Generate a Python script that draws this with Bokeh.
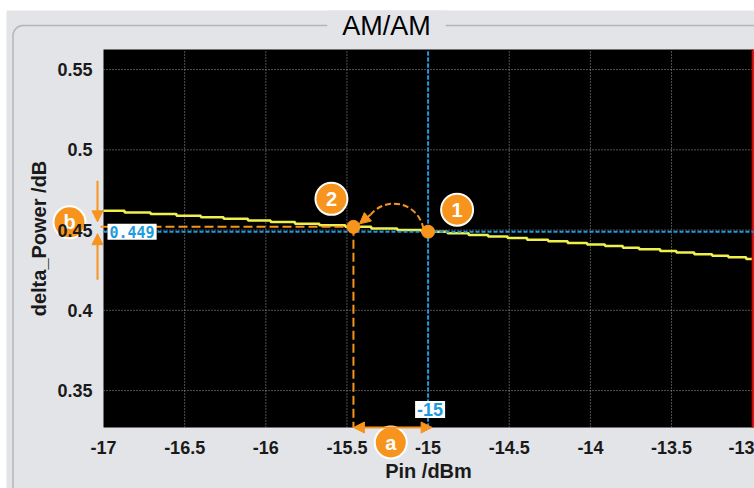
import math
from bokeh.plotting import figure
from bokeh.models import Label, Arrow, NormalHead, BoxAnnotation, Range1d
from bokeh.embed import file_html
from bokeh.resources import INLINE
from bokeh.core.properties import value

# ---------------- data ----------------
title_text = "AM/AM"
x_label = "Pin /dBm"
y_label = "delta_Power /dB"
x_ticks = [-17, -16.5, -16, -15.5, -15, -14.5, -14, -13.5, -13]
x_tick_labels = ["-17", "-16.5", "-16", "-15.5", "-15", "-14.5", "-14", "-13.5", "-13"]
y_ticks = [0.35, 0.4, 0.45, 0.5, 0.55]
y_tick_labels = ["0.35", "0.4", "0.45", "0.5", "0.55"]

trace_pin = [-17.0, -16.87, -16.71, -16.55, -16.40, -16.26, -16.11, -15.97, -15.82,
             -15.67, -15.51, -15.35, -15.19, -15.04, -14.88, -14.75, -14.63, -14.51,
             -14.39, -14.26, -14.14, -14.02, -13.91, -13.80, -13.70, -13.57, -13.47,
             -13.36, -13.25, -13.15, -13.04, -13.0]
trace_dp = [0.462, 0.461, 0.460, 0.459, 0.458, 0.457, 0.456, 0.455, 0.454,
            0.453, 0.452, 0.451, 0.450, 0.449, 0.448, 0.447, 0.446, 0.445,
            0.444, 0.443, 0.442, 0.441, 0.440, 0.439, 0.438, 0.437, 0.436,
            0.435, 0.434, 0.433, 0.432, 0.432]

cursor1_pin = -15.0
cursor1_dp = 0.449
cursor2_pin = -15.46
cursor2_dp = 0.452
limit_pin = -13.0

# ---------------- styling / layout ----------------
PANEL = "#e3e4e8"
ORANGE = "#f7941d"
BLUE = "#1e9be0"
YELLOW = "#f0f04c"
RED = "#e00000"
TXT = "#1a1a1a"
FONT = "Liberation Sans"

W, H = 754, 488
PL, PT, PR, PB = 103, 49, 1, 61          # diagram area inside the canvas (px)
XMIN, XMAX = -17.0, -12.995
YMIN, YMAX = 0.327, 0.5625
DX = (XMAX - XMIN) / (W - PL - PR)       # data per pixel
DY = (YMAX - YMIN) / (H - PT - PB)


def px2x(px):
    return XMIN + (px - PL) * DX


def py2y(py):
    return YMAX - (py - PT) * DY


p = figure(width=W, height=H, x_range=Range1d(px2x(0), px2x(W)), y_range=Range1d(py2y(H), py2y(0)),
           output_backend="svg", toolbar_location=None, title=None,
           min_border_left=0, min_border_right=0, min_border_top=0, min_border_bottom=0,
           background_fill_color="white", border_fill_color="white", outline_line_color=None)
p.grid.visible = False

# panel background, rounded frame, diagram area
p.add_layout(BoxAnnotation(left=px2x(6), right=px2x(W + 20), top=py2y(10), bottom=py2y(H + 20),
                           fill_color=PANEL, fill_alpha=1, line_alpha=0, level="underlay"))
p.add_layout(BoxAnnotation(left=px2x(12.5), right=px2x(W + 30), top=py2y(25), bottom=py2y(H + 30),
                           fill_alpha=0, line_color="#4a4a4a", line_width=1.5,
                           border_radius=10, level="underlay"))
p.add_layout(BoxAnnotation(left=XMIN, right=XMAX, top=YMAX, bottom=YMIN,
                           fill_color="black", fill_alpha=1, line_alpha=0, level="underlay"))
p.add_layout(Label(x=px2x(386), y=py2y(25), text=title_text,
                   text_align="center", text_baseline="middle",
                   text_font=FONT, text_font_size="27px", text_color="#000000",
                   background_fill_color=PANEL, padding=dict(left=15, right=15, top=0, bottom=0)))

# axes fixed to the diagram edges
p.xaxis.fixed_location = YMIN
p.yaxis.fixed_location = XMIN
p.xaxis.bounds = (XMIN, XMAX)
p.yaxis.bounds = (YMIN, YMAX)
p.xaxis.ticker = x_ticks
p.xaxis.major_label_overrides = {t: l for t, l in zip(x_ticks, x_tick_labels)}
p.yaxis.ticker = y_ticks
p.yaxis.major_label_overrides = {t: l for t, l in zip(y_ticks, y_tick_labels)}
p.xaxis.axis_label = x_label
p.yaxis.axis_label = y_label
for ax in (p.xaxis[0], p.yaxis[0]):
    ax.axis_line_color = None
    ax.major_tick_line_color = None
    ax.minor_tick_line_color = None
    ax.major_tick_out = 0
    ax.major_tick_in = 0
    ax.major_label_text_font = FONT
    ax.major_label_text_font_style = "bold"
    ax.major_label_text_font_size = "18px"
    ax.major_label_text_color = TXT
    ax.axis_label_text_font = FONT
    ax.axis_label_text_font_style = "bold"
    ax.axis_label_text_font_size = "20px"
    ax.axis_label_text_color = TXT
p.xaxis.major_label_standoff = 13
p.xaxis.axis_label_standoff = 3
p.yaxis.major_label_standoff = 11
p.yaxis.axis_label_standoff = 4

# dotted grid inside the diagram
gx = [t for t in x_ticks if XMIN < t < limit_pin]
gy = [t for t in y_ticks if YMIN < t < YMAX]
p.segment(x0=gx, y0=[YMIN] * len(gx), x1=gx, y1=[YMAX] * len(gx),
          line_color="#a0a0a0", line_width=1, line_dash="1 2")
p.segment(x0=[XMIN] * len(gy), y0=gy, x1=[XMAX] * len(gy), y1=gy,
          line_color="#a0a0a0", line_width=1, line_dash="1 2")

# trace
p.step(trace_pin, trace_dp, mode="after", line_color=YELLOW, line_width=2.5)

# limit line
p.segment(x0=[limit_pin], y0=[YMIN], x1=[limit_pin], y1=[YMAX], line_color=RED, line_width=2)

# cursor 1 (blue)
p.segment(x0=[cursor1_pin], y0=[YMIN], x1=[cursor1_pin], y1=[YMAX],
          line_color=BLUE, line_width=2, line_dash="4 2")
p.segment(x0=[XMIN], y0=[cursor1_dp], x1=[XMAX], y1=[cursor1_dp],
          line_color=BLUE, line_width=2, line_dash="4 2")

# cursor 2 (orange)
p.segment(x0=[cursor2_pin], y0=[cursor2_dp], x1=[cursor2_pin], y1=[YMIN],
          line_color=ORANGE, line_width=2, line_dash="9 4")
p.segment(x0=[XMIN - 3 * DX], y0=[cursor2_dp], x1=[cursor2_pin], y1=[cursor2_dp],
          line_color=ORANGE, line_width=2, line_dash="9 4")

# markers
p.scatter([cursor1_pin, cursor2_pin], [cursor1_dp, cursor2_dp], size=13,
          fill_color=ORANGE, line_color=ORANGE)

# arc arrow from marker 1 to marker 2
xc = (cursor1_pin + cursor2_pin) / 2 + 3 * DX
yc = cursor1_dp - 2 * DY
p.arc(x=[xc], y=[yc], radius=30, radius_units="screen", start_angle=0.16, end_angle=2.45,
      line_color=ORANGE, line_width=2, line_dash="6 3")
ax0 = xc + 30 * math.cos(2.45) * DX
ay0 = yc + 30 * math.sin(2.45) * DY
p.add_layout(Arrow(x_start=ax0, y_start=ay0, x_end=cursor2_pin + 6 * DX, y_end=cursor2_dp + 3 * DY,
                   line_color=ORANGE, line_width=2,
                   end=NormalHead(size=11, fill_color=ORANGE, line_color=ORANGE)))

# delta arrows a (x) and b (y)
p.add_layout(Arrow(x_start=cursor2_pin, y_start=YMIN, x_end=cursor1_pin + 4 * DX, y_end=YMIN,
                   line_color=ORANGE, line_width=2,
                   start=NormalHead(size=11, fill_color=ORANGE, line_color=ORANGE),
                   end=NormalHead(size=11, fill_color=ORANGE, line_color=ORANGE)))
xb = XMIN - 6 * DX
p.add_layout(Arrow(x_start=xb, y_start=cursor2_dp + 46 * DY, x_end=xb, y_end=cursor2_dp + 5 * DY,
                   line_color=ORANGE, line_width=2,
                   end=NormalHead(size=11, fill_color=ORANGE, line_color=ORANGE)))
p.add_layout(Arrow(x_start=xb, y_start=cursor1_dp - 48 * DY, x_end=xb, y_end=cursor1_dp - 2 * DY,
                   line_color=ORANGE, line_width=2,
                   end=NormalHead(size=11, fill_color=ORANGE, line_color=ORANGE)))

# numbered / lettered badges
bx = [cursor1_pin + 29 * DX, cursor2_pin - 22 * DX, (cursor1_pin + cursor2_pin) / 2, XMIN - 34 * DX]
by = [cursor1_dp + 22 * DY, cursor2_dp + 28 * DY, YMIN - 15 * DY, (cursor1_dp + cursor2_dp) / 2 + 7 * DY]
p.scatter(bx, by, size=32, fill_color=ORANGE, line_color="white", line_width=2)
p.text(bx, by, text=["1", "2", "a", "b"], text_align="center",
       text_baseline="middle", text_color="white", text_font=value(FONT),
       text_font_style="bold", text_font_size="20px")

# cursor value read-outs
p.add_layout(Label(x=XMIN + 4 * DX, y=cursor1_dp, text=f"{cursor1_dp:.3f}",
                   text_align="left", text_baseline="middle", text_color=BLUE,
                   text_font="DejaVu Sans Mono", text_font_style="bold",
                   text_font_size="15px", background_fill_color="white", padding=2))
p.add_layout(Label(x=cursor1_pin + 2 * DX, y=YMIN + 18 * DY, text=f"{cursor1_pin:g}",
                   text_align="center", text_baseline="middle", text_color=BLUE,
                   text_font=FONT, text_font_style="bold",
                   text_font_size="18px", background_fill_color="white", padding=2))

open("out.html", "w").write(file_html(p, INLINE))
